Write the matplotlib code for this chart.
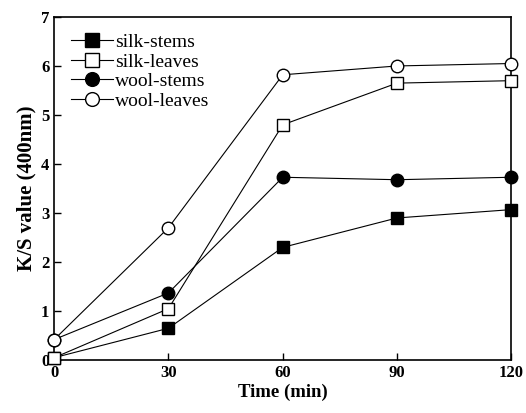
import numpy as np
import matplotlib.pyplot as plt

plt.rcParams['font.family'] = ['Liberation Serif', 'DejaVu Serif']

time = [0, 30, 60, 90, 120]
silk_stems = [0.05, 0.65, 2.3, 2.9, 3.07]
silk_leaves = [0.05, 1.05, 4.8, 5.65, 5.7]
wool_stems = [0.42, 1.37, 3.73, 3.68, 3.73]
wool_leaves = [0.42, 2.7, 5.82, 6.0, 6.05]

fig = plt.figure(figsize=(5.26, 4.13), dpi=100)
ax = fig.add_axes([0.103, 0.128, 0.869, 0.831])

kw = dict(color='black', lw=0.8, ms=9, clip_on=False, zorder=3)
ax.plot(time, silk_stems, marker='s', mfc='black', label='silk-stems', **kw)
ax.plot(time, silk_leaves, marker='s', mfc='white', label='silk-leaves', **kw)
ax.plot(time, wool_stems, marker='o', mfc='black', label='wool-stems', **kw)
ax.plot(time, wool_leaves, marker='o', mfc='white', label='wool-leaves', **kw)

ax.set_xlim(0, 120)
ax.set_ylim(0, 7)
ax.set_xticks(time)
ax.set_yticks(range(8))
ax.tick_params(direction='in', length=5, width=1, labelsize=12)
for lab in ax.get_xticklabels() + ax.get_yticklabels():
    lab.set_fontweight('bold')
for s in ax.spines.values():
    s.set_linewidth(1.2)

ax.set_xlabel('Time (min)', fontsize=13.5, fontweight='bold', labelpad=2)
ax.set_ylabel('K/S value (400nm)', fontsize=15, fontweight='bold', labelpad=3)

leg = ax.legend(loc='upper left', frameon=False, handlelength=2.2,
                handletextpad=0.1, labelspacing=0.1, borderaxespad=0.45,
                prop={'size': 14}, markerscale=1.1)

fig.savefig('out.png', dpi=100)
